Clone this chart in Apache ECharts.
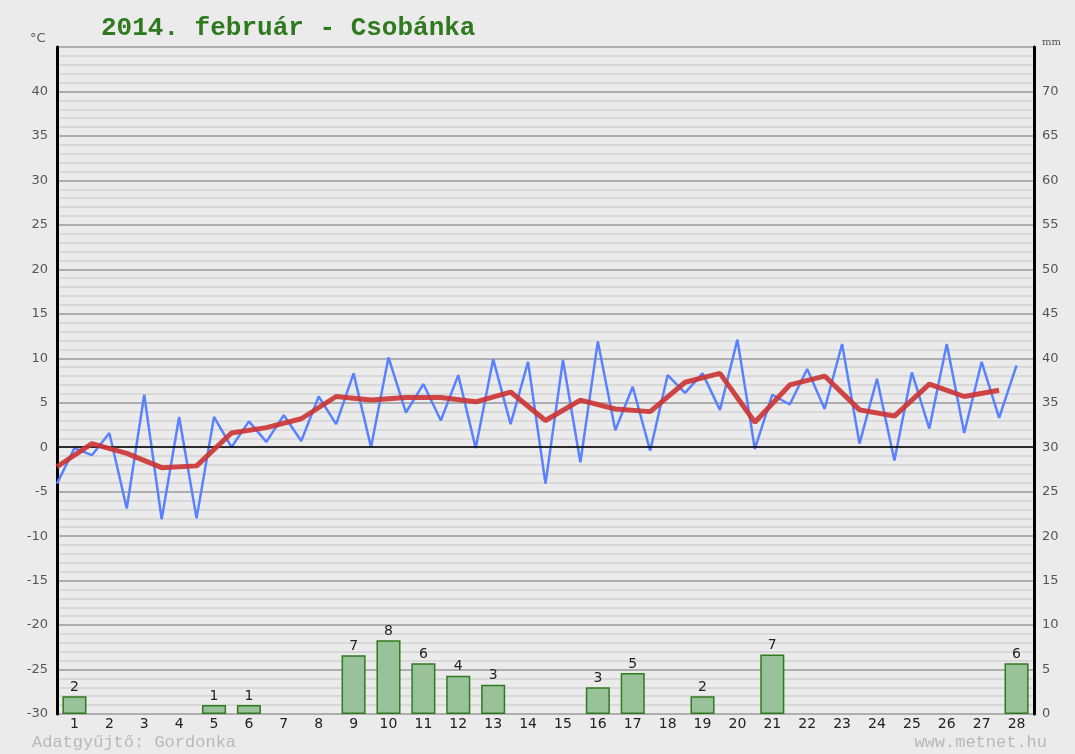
<!DOCTYPE html>
<html>
<head>
<meta charset="utf-8">
<script src="https://cdn.jsdelivr.net/npm/echarts@6/dist/echarts.min.js"></script>
<style>
html,body{margin:0;padding:0;background:#ebebeb;}
#chart{width:1075px;height:754px;}
</style>
</head>
<body>
<div id="chart"></div>
<script>
// ---- data ----
const days = ['1','2','3','4','5','6','7','8','9','10','11','12','13','14','15','16','17','18','19','20','21','22','23','24','25','26','27','28'];
// daily minimum (plotted at start of day) and maximum (plotted mid-day), °C
const tMin = [-4.1, -0.9, -6.9, -8.1, -8.0, 0.0, 0.6, 0.7, 2.6, 0.0, 3.9, 3.0, -0.1, 2.6, -4.1, -1.7, 1.9, -0.4, 6.1, 4.2, -0.2, 4.8, 4.3, 0.4, -1.5, 2.1, 1.6, 3.3];
const tMax = [-0.1, 1.6, 5.9, 3.4, 3.4, 2.9, 3.6, 5.7, 8.3, 10.1, 7.1, 8.1, 9.9, 9.6, 9.8, 11.9, 6.8, 8.1, 8.3, 12.1, 5.9, 8.8, 11.6, 7.7, 8.4, 11.6, 9.6, 9.2];
// daily mean, °C
const tAvg = [-2.2, 0.4, -0.7, -2.3, -2.1, 1.6, 2.2, 3.2, 5.7, 5.3, 5.6, 5.6, 5.1, 6.2, 3.0, 5.3, 4.3, 4.0, 7.3, 8.3, 2.8, 7.0, 8.0, 4.2, 3.5, 7.1, 5.7, 6.4];
// precipitation, mm
const precip = [2.0, 0, 0, 0, 1.0, 1.0, 0, 0, 6.6, 8.3, 5.7, 4.3, 3.3, 0, 0, 3.0, 4.6, 0, 2.0, 0, 6.7, 0, 0, 0, 0, 0, 0, 5.7];
const tempTicks = [-30, 45, 5];
const mmTicks = [0, 75, 5];
const titleText = '2014. február - Csobánka';
const leftFoot = 'Adatgyűjtő: Gordonka';
const rightFoot = 'www.metnet.hu';

// ---- build ----
const blueData = [];
tMin.forEach((v, i) => { blueData.push([i, v]); blueData.push([i + 0.5, tMax[i]]); });
const redData = tAvg.map((v, i) => [i, v]);
const barData = precip.map(v => (v > 0 ? v : '-'));

const chart = echarts.init(document.getElementById('chart'));
const labelFont = 'DejaVu Sans';
chart.setOption({
  backgroundColor: '#ebebeb',
  animation: false,
  title: {
    text: titleText, left: 96, top: 10,
    textStyle: { fontFamily: 'Liberation Mono', fontWeight: 'bold', fontSize: 26, color: '#2f7a1f' }
  },
  graphic: [
    { type: 'text', left: 30, top: 32, style: { text: '°C', font: '13px DejaVu Sans', fill: '#555' } },
    { type: 'text', left: 1042, top: 37, style: { text: 'mm', font: '10px DejaVu Serif', fill: '#555' } },
    { type: 'text', left: 32, top: 734, style: { text: leftFoot, font: '17px Liberation Mono', fill: '#b8b8b8' } },
    { type: 'text', right: 28, top: 734, style: { text: rightFoot, font: '17px Liberation Mono', fill: '#b8b8b8' } }
  ],
  grid: { left: 57, right: 41, top: 47, bottom: 40, show: false },
  xAxis: [
    {
      type: 'category', data: days, boundaryGap: true, gridIndex: 0,
      axisLine: { show: false }, axisTick: { show: false },
      axisLabel: { color: '#222', fontSize: 14, fontFamily: labelFont, margin: 3 }
    },
    { type: 'value', min: 0, max: 28, show: false, gridIndex: 0 }
  ],
  yAxis: [
    {
      type: 'value', min: tempTicks[0], max: tempTicks[1], interval: tempTicks[2], position: 'left',
      axisLine: { show: true, lineStyle: { color: '#000', width: 3 } },
      axisTick: { show: false },
      axisLabel: {
        color: '#555', fontSize: 13, fontFamily: labelFont, margin: 9, padding: [0, 0, 10, 0],
        formatter: v => (v === tempTicks[1] ? '' : String(v))
      },
      splitLine: { show: true, lineStyle: { color: '#9a9a9a', width: 1.5 } },
      minorTick: { show: false, splitNumber: 5 },
      minorSplitLine: { show: true, lineStyle: { color: '#d8d8d8', width: 2 } }
    },
    {
      type: 'value', min: mmTicks[0], max: mmTicks[1], interval: mmTicks[2], position: 'right',
      axisLine: { show: true, lineStyle: { color: '#000', width: 3 } },
      axisTick: { show: false },
      axisLabel: {
        color: '#555', fontSize: 13, fontFamily: labelFont, margin: 8, padding: [0, 0, 10, 0],
        formatter: v => (v === mmTicks[1] ? '' : String(v))
      },
      splitLine: { show: false }
    }
  ],
  series: [
    {
      type: 'bar', xAxisIndex: 0, yAxisIndex: 1, data: barData, barWidth: '69%',
      itemStyle: { color: '#99c29a', borderColor: '#2f7a1f', borderWidth: 1.5 },
      label: {
        show: true, position: 'top', distance: 2, color: '#222', fontSize: 14, fontFamily: labelFont,
        formatter: p => String(Math.round(p.value))
      },
      silent: true, z: 2
    },
    {
      type: 'line', xAxisIndex: 1, yAxisIndex: 0, data: blueData, symbol: 'none',
      lineStyle: { color: '#5a82ff', width: 2.5 }, z: 4,
      markLine: {
        silent: true, symbol: 'none', label: { show: false },
        lineStyle: { color: '#000', width: 1.5, type: 'solid' },
        data: [{ yAxis: 0 }]
      }
    },
    {
      type: 'line', xAxisIndex: 1, yAxisIndex: 0, data: redData, symbol: 'none',
      lineStyle: { color: '#cc3333', width: 5, opacity: 0.9 }, z: 5
    }
  ]
});
</script>
</body>
</html>
